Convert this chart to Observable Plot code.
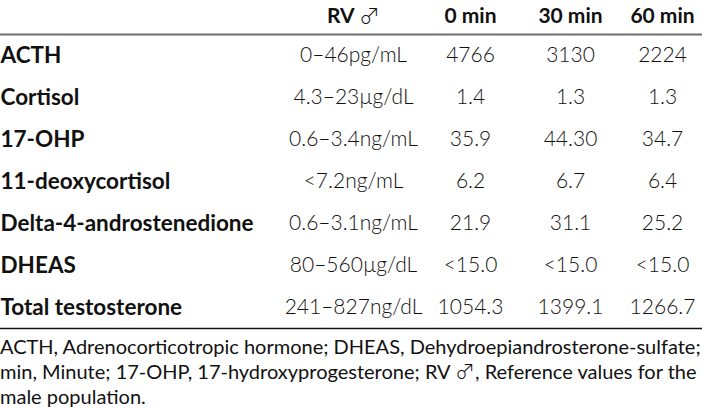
<!DOCTYPE html>
<html><head><meta charset="utf-8">
<script src="https://cdn.jsdelivr.net/npm/d3@7"></script>
<script src="https://cdn.jsdelivr.net/npm/@observablehq/plot@0.6"></script>
<style>
body{margin:0;background:#fff;}
#fn{font-family:Lato,"Open Sans",sans-serif;font-size:20px;line-height:25px;color:#111;white-space:nowrap;}
.sym{font-family:"Noto Sans CJK JP","DejaVu Sans";font-weight:200;line-height:0;}
</style></head><body><div id="chart"></div><div id="fn"></div>
<script>
const hormones = ["ACTH","Cortisol","17-OHP","11-deoxycortisol","Delta-4-androstenedione","DHEAS","Total testosterone"];
const refValues = ["0–46pg/mL","4.3–23µg/dL","0.6–3.4ng/mL","<7.2ng/mL","0.6–3.1ng/mL","80–560µg/dL","241–827ng/dL"];
const min0 = ["4766","1.4","35.9","6.2","21.9","<15.0","1054.3"];
const min30 = ["3130","1.3","44.30","6.7","31.1","<15.0","1399.1"];
const min60 = ["2224","1.3","34.7","6.4","25.2","<15.0","1266.7"];
const headerLabels = ["RV ♂","0 min","30 min","60 min"];
const footnoteLines = [
  "ACTH, Adrenocorticotropic hormone; DHEAS, Dehydroepiandrosterone-sulfate;",
  "min, Minute; 17-OHP, 17-hydroxyprogesterone; RV ♂, Reference values for the",
  "male population."
];

// layout (not data): column centres and table row index (0 = header row)
const colX = {label: 0, rv: 353, m0: 470, m30: 570, m60: 662};
const FONT = "Lato, 'Open Sans', sans-serif";

const rows = hormones.map((h, i) => ({row: i + 1, hormone: h, rv: refValues[i], m0: min0[i], m30: min30[i], m60: min60[i]}));
const valueCols = ["rv", "m0", "m30", "m60"];
const headRow = valueCols.map((c, j) => ({row: 0, col: c, label: headerLabels[j]}));

const marks = [
  Plot.ruleY([0.5], {stroke: "#6e6e6e", strokeWidth: 2}),
  Plot.ruleY([hormones.length + 0.5], {stroke: "#111", strokeWidth: 1.5}),
  Plot.text(headRow, {x: d => colX[d.col], y: "row", text: "label",
    fontWeight: "bold", fontSize: 21, textAnchor: "middle", fill: "#111", dy: 3}),
  Plot.text(rows, {x: () => colX.label, y: "row", text: "hormone",
    fontWeight: "bold", fontSize: 22.5, textAnchor: "start", fill: "#111"}),
  ...valueCols.map(c => Plot.text(rows, {x: () => colX[c], y: "row", text: c,
    fontWeight: 300, fontSize: 21, textAnchor: "middle", fill: "#111"}))
];

const chart = Plot.plot({
  width: 702, height: 334,
  marginTop: 0, marginBottom: 0, marginLeft: 0, marginRight: 0,
  style: {fontFamily: FONT, background: "#fff"},
  x: {type: "linear", domain: [0, 702], range: [0, 702], axis: null},
  y: {type: "linear", domain: [0, hormones.length], range: [13, 307], axis: null},
  marks
});
// thin, cap-height male sign, as in the reference
d3.select(chart).selectAll("text").each(function() {
  const t = this.textContent;
  if (t.includes("♂")) {
    const sel = d3.select(this);
    sel.text(null);
    t.split(/(♂)/).forEach(part => {
      if (!part) return;
      const ts = sel.append("tspan").text(part);
      if (part === "♂") ts.attr("font-family", "'Noto Sans CJK JP', 'DejaVu Sans'").attr("font-weight", 200).attr("font-size", 21);
    });
  }
});
document.getElementById("chart").appendChild(chart);
document.getElementById("fn").innerHTML = footnoteLines
  .map(l => `<div>${l.replace(/♂/g, '<span class="sym">♂</span>')}</div>`).join("");
</script></body></html>
